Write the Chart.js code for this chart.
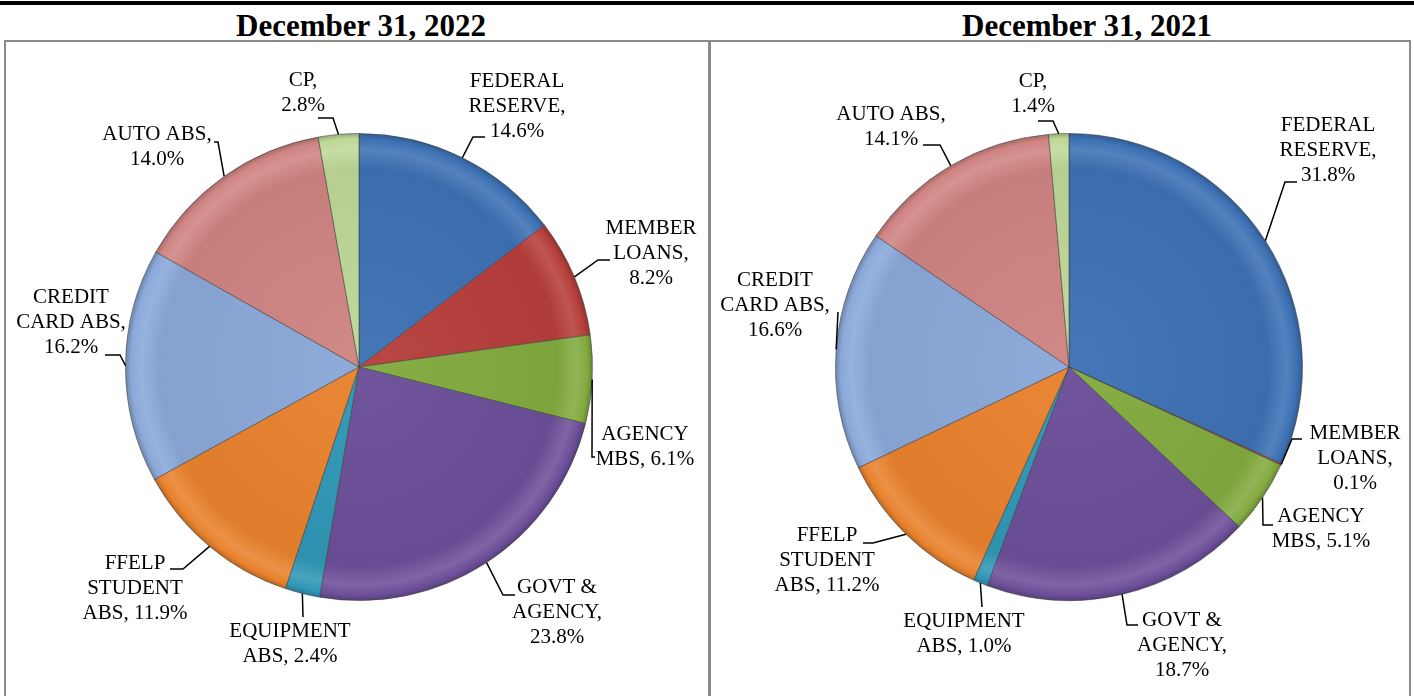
<!DOCTYPE html>
<html>
<head>
<meta charset="utf-8">
<script src="https://cdn.jsdelivr.net/npm/chart.js@4.4.1/dist/chart.umd.min.js"></script>
<style>
  html, body { margin: 0; padding: 0; background: #ffffff; }
  body { width: 1414px; height: 696px; position: relative; overflow: hidden; }
  .topbar { position: absolute; left: 0; top: 1px; width: 1414px; height: 4px; background: #000; }
  .title { position: absolute; top: 10px; width: 500px; text-align: center;
           font: bold 31px "Liberation Serif", "Times New Roman", serif; line-height: 31px; color: #000; }
  .box { position: absolute; top: 40px; height: 670px; border: 2px solid #8a8a8a; box-sizing: border-box; }
  canvas { position: absolute; }
</style>
</head>
<body>
<div class="topbar"></div>
<div class="title" id="t1" style="left:111px;"></div>
<div class="title" id="t2" style="left:837px;"></div>
<div class="box" style="left:4px; width:706px;"></div>
<div class="box" style="left:709px; width:702px;"></div>
<canvas id="c1" width="701" height="654" style="left:6px; top:42px;"></canvas>
<canvas id="c2" width="696" height="654" style="left:712px; top:42px;"></canvas>
<script>
// ---------------- DATA ----------------
const titles = ["December 31, 2022", "December 31, 2021"];
const categories = ["FEDERAL RESERVE", "MEMBER LOANS", "AGENCY MBS", "GOVT & AGENCY",
  "EQUIPMENT ABS", "FFELP STUDENT ABS", "CREDIT CARD ABS", "AUTO ABS", "CP"];
const values2022 = [14.6, 8.2, 6.1, 23.8, 2.4, 11.9, 16.2, 14.0, 2.8];
const values2021 = [31.8, 0.1, 5.1, 18.7, 1.0, 11.2, 16.6, 14.1, 1.4];
const labelTemplates = ["FEDERAL\nRESERVE,\n{v}%", "MEMBER\nLOANS,\n{v}%", "AGENCY\nMBS, {v}%",
  "GOVT &\nAGENCY,\n{v}%", "EQUIPMENT\nABS, {v}%", "FFELP\nSTUDENT\nABS, {v}%",
  "CREDIT\nCARD ABS,\n{v}%", "AUTO ABS,\n{v}%", "CP,\n{v}%"];

// ---------------- STYLE ----------------
const sliceColors = ["#3D71B4", "#B63F3B", "#82AB3F", "#6C4F99", "#2F97B6",
  "#E8822E", "#8AA8D8", "#CF8482", "#BED897"];

// label layout: text block centre, elbow, stub end (relative to pie centre, px)
const layout2022 = [
  {text:[158,-261], elbow:[114,-230], stub:[126,-230]},
  {text:[292,-114], elbow:[239,-107], stub:[251,-107]},
  {text:[286,80],   elbow:[233,90],   stub:[236,90]},
  {text:[198,245],  elbow:[144,228],  stub:[156,228]},
  {text:[-69,277],  elbow:[-56,250],  stub:[-56,250]},
  {text:[-224,221], elbow:[-176,202], stub:[-189,202]},
  {text:[-288,-45], elbow:[-239,-12], stub:[-254,-12]},
  {text:[-202,-220],elbow:[-141,-225],stub:[-145,-225]},
  {text:[-56,-274], elbow:[-26,-249], stub:[-41,-249]}
];
const layout2021 = [
  {text:[259,-217], elbow:[216,-185], stub:[228,-185]},
  {text:[286,91],   elbow:[223,72],   stub:[233,72]},
  {text:[252,162],  elbow:[194,158],  stub:[204,158]},
  {text:[113,278],  elbow:[58,258],   stub:[69,258]},
  {text:[-105,267], elbow:[-87,240],  stub:[-87,240]},
  {text:[-242,193], elbow:[-196,176], stub:[-206,176]},
  {text:[-294,-62], elbow:[-231,-55], stub:[-231,-55]},
  {text:[-178,-240],elbow:[-129,-222],stub:[-146,-222]},
  {text:[-36,-273], elbow:[-16,-246], stub:[-31,-246]}
];

document.getElementById('t1').textContent = titles[0];
document.getElementById('t2').textContent = titles[1];

function shade(hex, f) {
  const n = parseInt(hex.slice(1), 16);
  let r = (n >> 16) & 255, g = (n >> 8) & 255, b = n & 255;
  const adj = v => f >= 0 ? Math.round(v + (255 - v) * f) : Math.round(v * (1 + f));
  return `rgb(${adj(r)},${adj(g)},${adj(b)})`;
}

function sliceFill(ctx) {
  const chart = ctx.chart, a = chart.chartArea;
  const base = sliceColors[ctx.dataIndex];
  if (!a) return base;
  const cx = (a.left + a.right) / 2, cy = (a.top + a.bottom) / 2;
  const r = Math.min(a.width, a.height) / 2;
  const g = chart.ctx.createRadialGradient(cx, cy, 0, cx, cy, r);
  g.addColorStop(0, shade(base, 0.04));
  g.addColorStop(0.85, shade(base, -0.04));
  g.addColorStop(0.93, shade(base, 0.12));
  g.addColorStop(0.975, base);
  g.addColorStop(1, shade(base, -0.22));
  return g;
}

const leaderLabels = {
  id: 'leaderLabels',
  afterDatasetsDraw(chart, args, opts) {
    const ctx = chart.ctx;
    const meta = chart.getDatasetMeta(0);
    const data = chart.data.datasets[0].data;
    ctx.save();
    ctx.strokeStyle = '#000';
    ctx.lineWidth = 1.5;
    ctx.fillStyle = '#000';
    ctx.font = '21px "Liberation Serif", "Times New Roman", serif';
    ctx.textAlign = 'center';
    ctx.textBaseline = 'middle';
    meta.data.forEach((arc, i) => {
      const p = arc.getProps(['x', 'y', 'startAngle', 'endAngle', 'outerRadius'], true);
      const mid = (p.startAngle + p.endAngle) / 2;
      const ex = p.x + Math.cos(mid) * p.outerRadius;
      const ey = p.y + Math.sin(mid) * p.outerRadius;
      const L = opts.layout[i];
      ctx.beginPath();
      ctx.moveTo(ex, ey);
      ctx.lineTo(p.x + L.elbow[0], p.y + L.elbow[1]);
      ctx.lineTo(p.x + L.stub[0], p.y + L.stub[1]);
      ctx.stroke();
      const lines = labelTemplates[i].replace('{v}', data[i].toFixed(1)).split('\n');
      const lh = 25;
      const y0 = p.y + L.text[1] - (lines.length - 1) * lh / 2;
      lines.forEach((ln, k) => ctx.fillText(ln, p.x + L.text[0], y0 + k * lh));
    });
    ctx.restore();
  }
};

function makePie(id, values, layout, padding) {
  return new Chart(document.getElementById(id), {
    type: 'pie',
    data: {
      labels: categories,
      datasets: [{
        data: values,
        backgroundColor: sliceFill,
        borderColor: 'rgba(60,60,60,0.55)',
        borderWidth: 1
      }]
    },
    options: {
      responsive: false,
      animation: false,
      devicePixelRatio: 1,
      layout: { padding },
      plugins: {
        legend: { display: false },
        tooltip: { enabled: false },
        title: { display: false },
        leaderLabels: { layout }
      }
    },
    plugins: [leaderLabels]
  });
}

makePie('c1', values2022, layout2022, {left: 119, right: 114, top: 91, bottom: 95});
makePie('c2', values2021, layout2021, {left: 123, right: 105, top: 91, bottom: 95});
</script>
</body>
</html>
